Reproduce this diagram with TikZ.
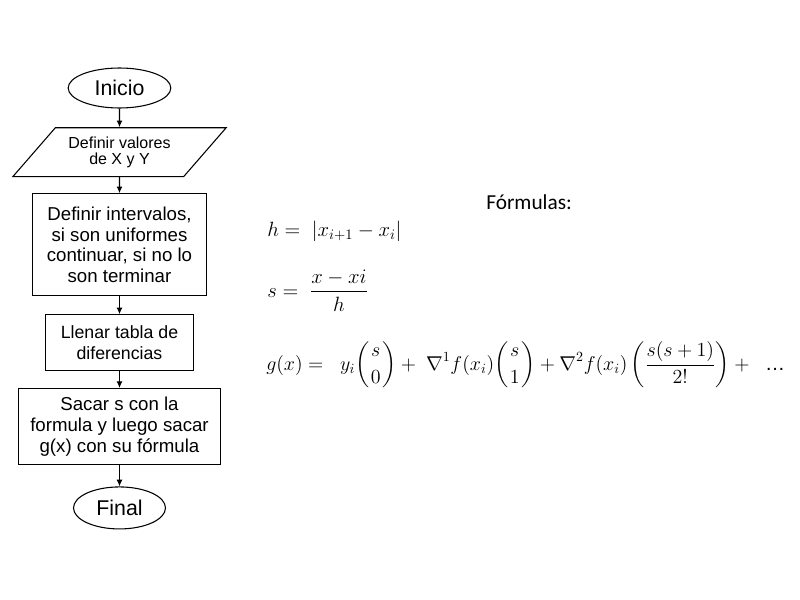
\RequirePackage{fix-cm}
\documentclass[tikz,border=0pt]{standalone}
\usepackage{amsmath}
\usepackage{fontspec}
\setmainfont{Liberation Sans}
\newfontfamily\calibri{Carlito}
\usetikzlibrary{shapes.geometric,arrows.meta,positioning}
\newcommand{\cbinom}[2]{\biggl(\genfrac{}{}{0pt}{0}{#1}{#2}\biggr)}

\begin{document}
\begin{tikzpicture}
[x=0.75pt,y=-0.75pt,node distance=13pt,
term/.style={shape=ellipse,draw=black,line width=0.8pt,minimum width=77pt,minimum height=30pt,inner sep=0pt,font=\fontsize{16}{19}\selectfont},
io/.style={shape=trapezium,trapezium left angle=49,trapezium right angle=131,trapezium stretches body,draw=black,line width=0.8pt,minimum width=160pt,inner xsep=1pt,inner ysep=6.5pt,align=center,font=\fontsize{12}{12.5}\selectfont},
proc/.style={shape=rectangle,draw=black,line width=0.8pt,align=center,inner sep=2pt,font=\fontsize{14}{15.5}\selectfont},
flecha/.style={-{Latex[length=5pt,width=4.5pt]},line width=0.8pt},
formula/.style={anchor=base west,inner sep=0pt,font=\fontsize{15}{18}\selectfont}]
\useasboundingbox (0,0) rectangle (800,600);
%% diagrama de flujo
\node (inicio) [term] at (119.5,88) {Inicio};
\node (datos) [io,below=14pt of inicio] {Definir valores\\de X y Y};
\node (intervalos) [proc,below=12pt of datos,minimum width=130.5pt,minimum height=76.5pt] {Definir intervalos,\\si son uniformes\\continuar, si no lo\\son terminar};
\node (tabla) [proc,below=13.5pt of intervalos,minimum width=111pt,minimum height=42pt,font=\fontsize{13.3}{15.5}\selectfont] {Llenar tabla de\\diferencias};
\node (sacar) [proc,below=12.5pt of tabla,minimum width=151pt,minimum height=57pt] {Sacar s con la\\formula y luego sacar\\g(x) con su fórmula};
\node (final) [term,below=16pt of sacar,minimum width=69pt,minimum height=31.5pt] {Final};
\draw[flecha] (inicio) -- (datos);
\draw[flecha] (datos) -- (intervalos);
\draw[flecha] (intervalos) -- (tabla);
\draw[flecha] (tabla) -- (sacar);
\draw[flecha] (sacar) -- (final);
%% formulas
\node (titulo) [anchor=base west,inner sep=0pt,font=\calibri\fontsize{16}{19}\selectfont] at (486,209) {Fórmulas:};
\node (fh) [formula,font=\fontsize{15.5}{18}\selectfont] at (267,236) {$h = \ |x_{i+1} - x_i|$};
\node (fs) [formula,font=\fontsize{15.5}{18}\selectfont] at (267,297) {$s = \ \dfrac{x - xi}{h}$};
\node (fg) [formula] at (266,370) {$\displaystyle g(x) = \;\ y_i \cbinom{s}{0} + \ \nabla^1 f(x_i)\cbinom{s}{1} + \nabla^2 f(x_i)\left(\frac{s(s+1)}{2!}\right) + \ \ \text{…}$};
\end{tikzpicture}
\end{document}
